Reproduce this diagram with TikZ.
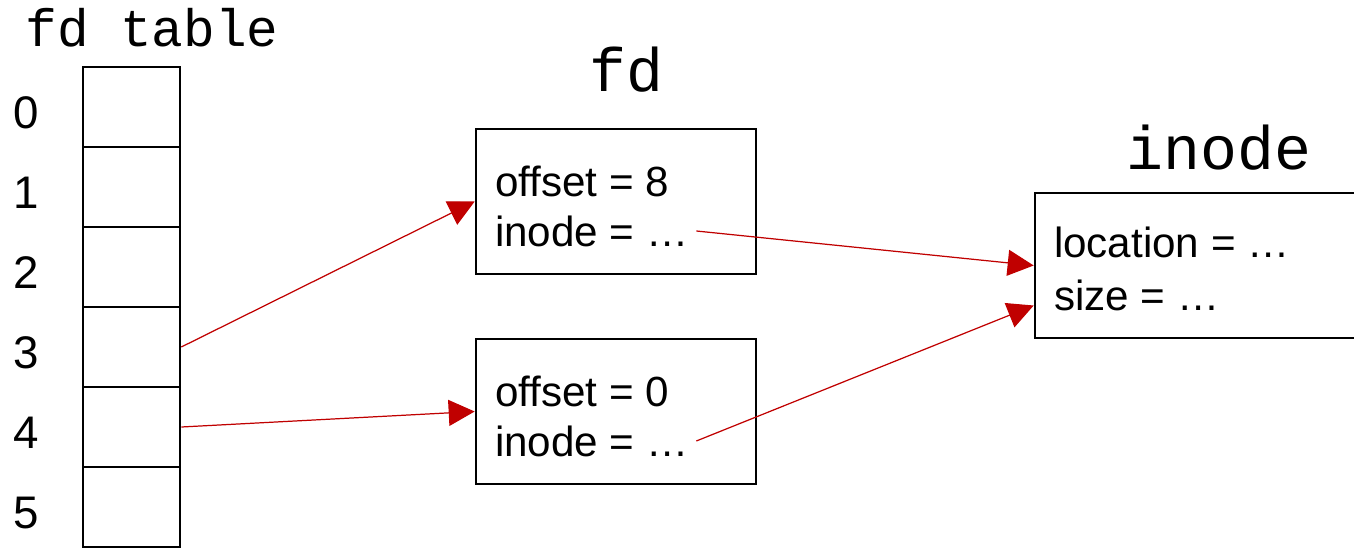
\documentclass[tikz,border=0pt]{standalone}
\usepackage{fontspec}
\setmainfont{Liberation Sans}
\setmonofont{Liberation Mono}
\usetikzlibrary{arrows.meta,positioning}
\definecolor{ptrred}{RGB}{192,0,0}

\begin{document}
\begin{tikzpicture}[>={Triangle[length=0.52cm,width=0.52cm]},
  cell/.style={draw,line width=1.5pt,minimum width=1.94cm,minimum height=1.6cm,inner sep=0},
  rec/.style={draw,line width=1.5pt,minimum width=5.6cm,minimum height=2.9cm,inner sep=0},
  idx/.style={font=\fontsize{26}{30}\selectfont},
  field/.style={anchor=west,inner sep=0,font=\fontsize{24}{28}\selectfont},
  ttl/.style={font=\ttfamily\fontsize{35}{40}\selectfont},
  ptr/.style={->,color=ptrred,line width=0.7pt}]
\useasboundingbox (0,0) rectangle (27.08,10.94);

% the descriptor table
\node[ttl,font=\ttfamily\fontsize{30}{34}\selectfont] (tbl) at (3.04,10.38) {fd table};
\foreach \i in {0,...,5} {
  \node[cell] (c\i) at (2.63,8.8-1.6*\i) {};
  \node[idx] (n\i) at (0.53,8.68-1.6*\i) {\i};
}

% open file descriptions
\node[ttl] (fdt) at (12.52,9.54) {fd};
\node[rec] (fdA) at (12.32,6.91) {};
\node[field] (aOff) at ([xshift=0.4cm,yshift=0.41cm]fdA.west) {offset = 8};
\node[field] (aIno) at ([xshift=0.4cm,yshift=-0.59cm]fdA.west) {inode = …};
\node[rec] (fdB) at (12.32,2.71) {};
\node[field] (bOff) at ([xshift=0.4cm,yshift=0.41cm]fdB.west) {offset = 0};
\node[field] (bIno) at ([xshift=0.4cm,yshift=-0.59cm]fdB.west) {inode = …};

% the inode
\node[ttl] (inot) at (24.38,7.98) {inode};
\node[rec,minimum width=6.5cm] (ino) at (23.95,5.63) {};
\node[field] (loc) at ([xshift=0.4cm,yshift=0.47cm]ino.west) {location = …};
\node[field] (sz) at ([xshift=0.4cm,yshift=-0.6cm]ino.west) {size = …};

\draw[ptr] (c3.east) -- (fdA.west);
\draw[ptr] (c4.east) -- (fdB.west);
\draw[ptr] ([xshift=0.15cm]aIno.east) -- (ino.west);
\draw[ptr] ([xshift=0.15cm]bIno.east) -- ([yshift=-0.8cm]ino.west);
\end{tikzpicture}
\end{document}
